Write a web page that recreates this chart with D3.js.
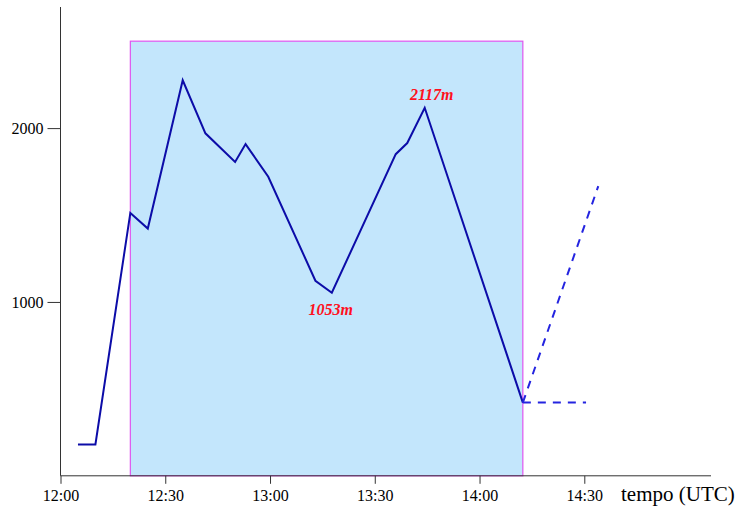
<!DOCTYPE html>
<html><head><meta charset="utf-8">
<script src="https://cdn.jsdelivr.net/npm/d3@7"></script>
<style>body{margin:0;background:#fff}svg{display:block}</style>
</head><body>
<svg id="c" width="742" height="508"></svg>
<script>
// minutes after 12:00 and altitude (m)
const times = [5, 10, 20, 25, 35, 41.5, 50, 53, 59.5, 73, 77.7, 96, 99.3, 104.3, 132.4];
const altitudes = [180, 180, 1512, 1422, 2275, 1970, 1805, 1908, 1720, 1122, 1053, 1850, 1914, 2117, 421];
const dashedUp = [[132.4, 421], [154, 1666]];
const dashedFlat = [[132.4, 421], [150.5, 421]];
const boxTimes = [20, 132.4];
const boxTop = 2500;
const xTickValues = [0, 30, 60, 90, 120, 150];
const xTickLabels = ["12:00", "12:30", "13:00", "13:30", "14:00", "14:30"];
const yTickValues = [1000, 2000];
const yTickLabels = ["1000", "2000"];
const annotations = [{t: 104.3, v: 2117, text: "2117m", pos: "above"}, {t: 77.7, v: 1053, text: "1053m", pos: "below"}];

const svg = d3.select("#c");
const x = d3.scaleLinear().domain([0, 150]).range([60.5, 584.3]);
const y = d3.scaleLinear().domain([0, 2000]).range([475.8, 128.1]);
const font = "'Liberation Serif', 'Times New Roman', serif";

// box
svg.append("rect")
  .attr("x", x(boxTimes[0])).attr("y", y(boxTop))
  .attr("width", x(boxTimes[1]) - x(boxTimes[0]))
  .attr("height", y(0) - y(boxTop))
  .attr("fill", "#c3e6fc").attr("stroke", "#e055ee").attr("stroke-width", 1.2);

// axes
const xAxis = d3.axisBottom(x).tickValues(xTickValues).tickFormat((d, i) => xTickLabels[i]).tickSize(8).tickPadding(6);
const gx = svg.append("g").attr("transform", `translate(0,${y(0)})`).call(xAxis)
  .attr("font-family", font).attr("font-size", 16);
gx.select(".domain").attr("d", `M${x(0)},0H711`).attr("stroke", "#333");
gx.selectAll(".tick line").attr("stroke", "#333");
gx.selectAll("text").attr("fill", "#000");

const yAxis = d3.axisLeft(y).tickValues(yTickValues).tickFormat((d, i) => yTickLabels[i]).tickSize(13).tickPadding(4);
const gy = svg.append("g").attr("transform", `translate(${x(0)},0)`).call(yAxis)
  .attr("font-family", font).attr("font-size", 16);
gy.select(".domain").attr("d", `M0,7V${y(0)}`).attr("stroke", "#333");
gy.selectAll(".tick line").attr("stroke", "#333");
gy.selectAll("text").attr("fill", "#000");

svg.append("text").attr("x", 621).attr("y", 501)
  .attr("font-family", font).attr("font-size", 21).text("tempo (UTC)");

// main line
const line = d3.line().x(d => x(d[0])).y(d => y(d[1]));
const pts = times.map((t, i) => [t, altitudes[i]]);
svg.append("path").attr("d", line(pts)).attr("fill", "none")
  .attr("stroke", "#0c0ca8").attr("stroke-width", 2).attr("stroke-linejoin", "miter");

[dashedUp, dashedFlat].forEach(d => {
  svg.append("path").attr("d", line(d)).attr("fill", "none")
    .attr("stroke", "#2424e0").attr("stroke-width", 2).attr("stroke-dasharray", "8,7");
});

annotations.forEach(a => {
  svg.append("text").attr("x", x(a.t) + (a.pos === "above" ? 7 : -1))
    .attr("y", a.pos === "above" ? y(a.v) - 8 : y(a.v) + 22)
    .attr("text-anchor", "middle").attr("font-family", font)
    .attr("font-size", 16).attr("font-weight", "bold").attr("font-style", "italic")
    .attr("fill", "#ff1020").text(a.text);
});
</script>
</body></html>
